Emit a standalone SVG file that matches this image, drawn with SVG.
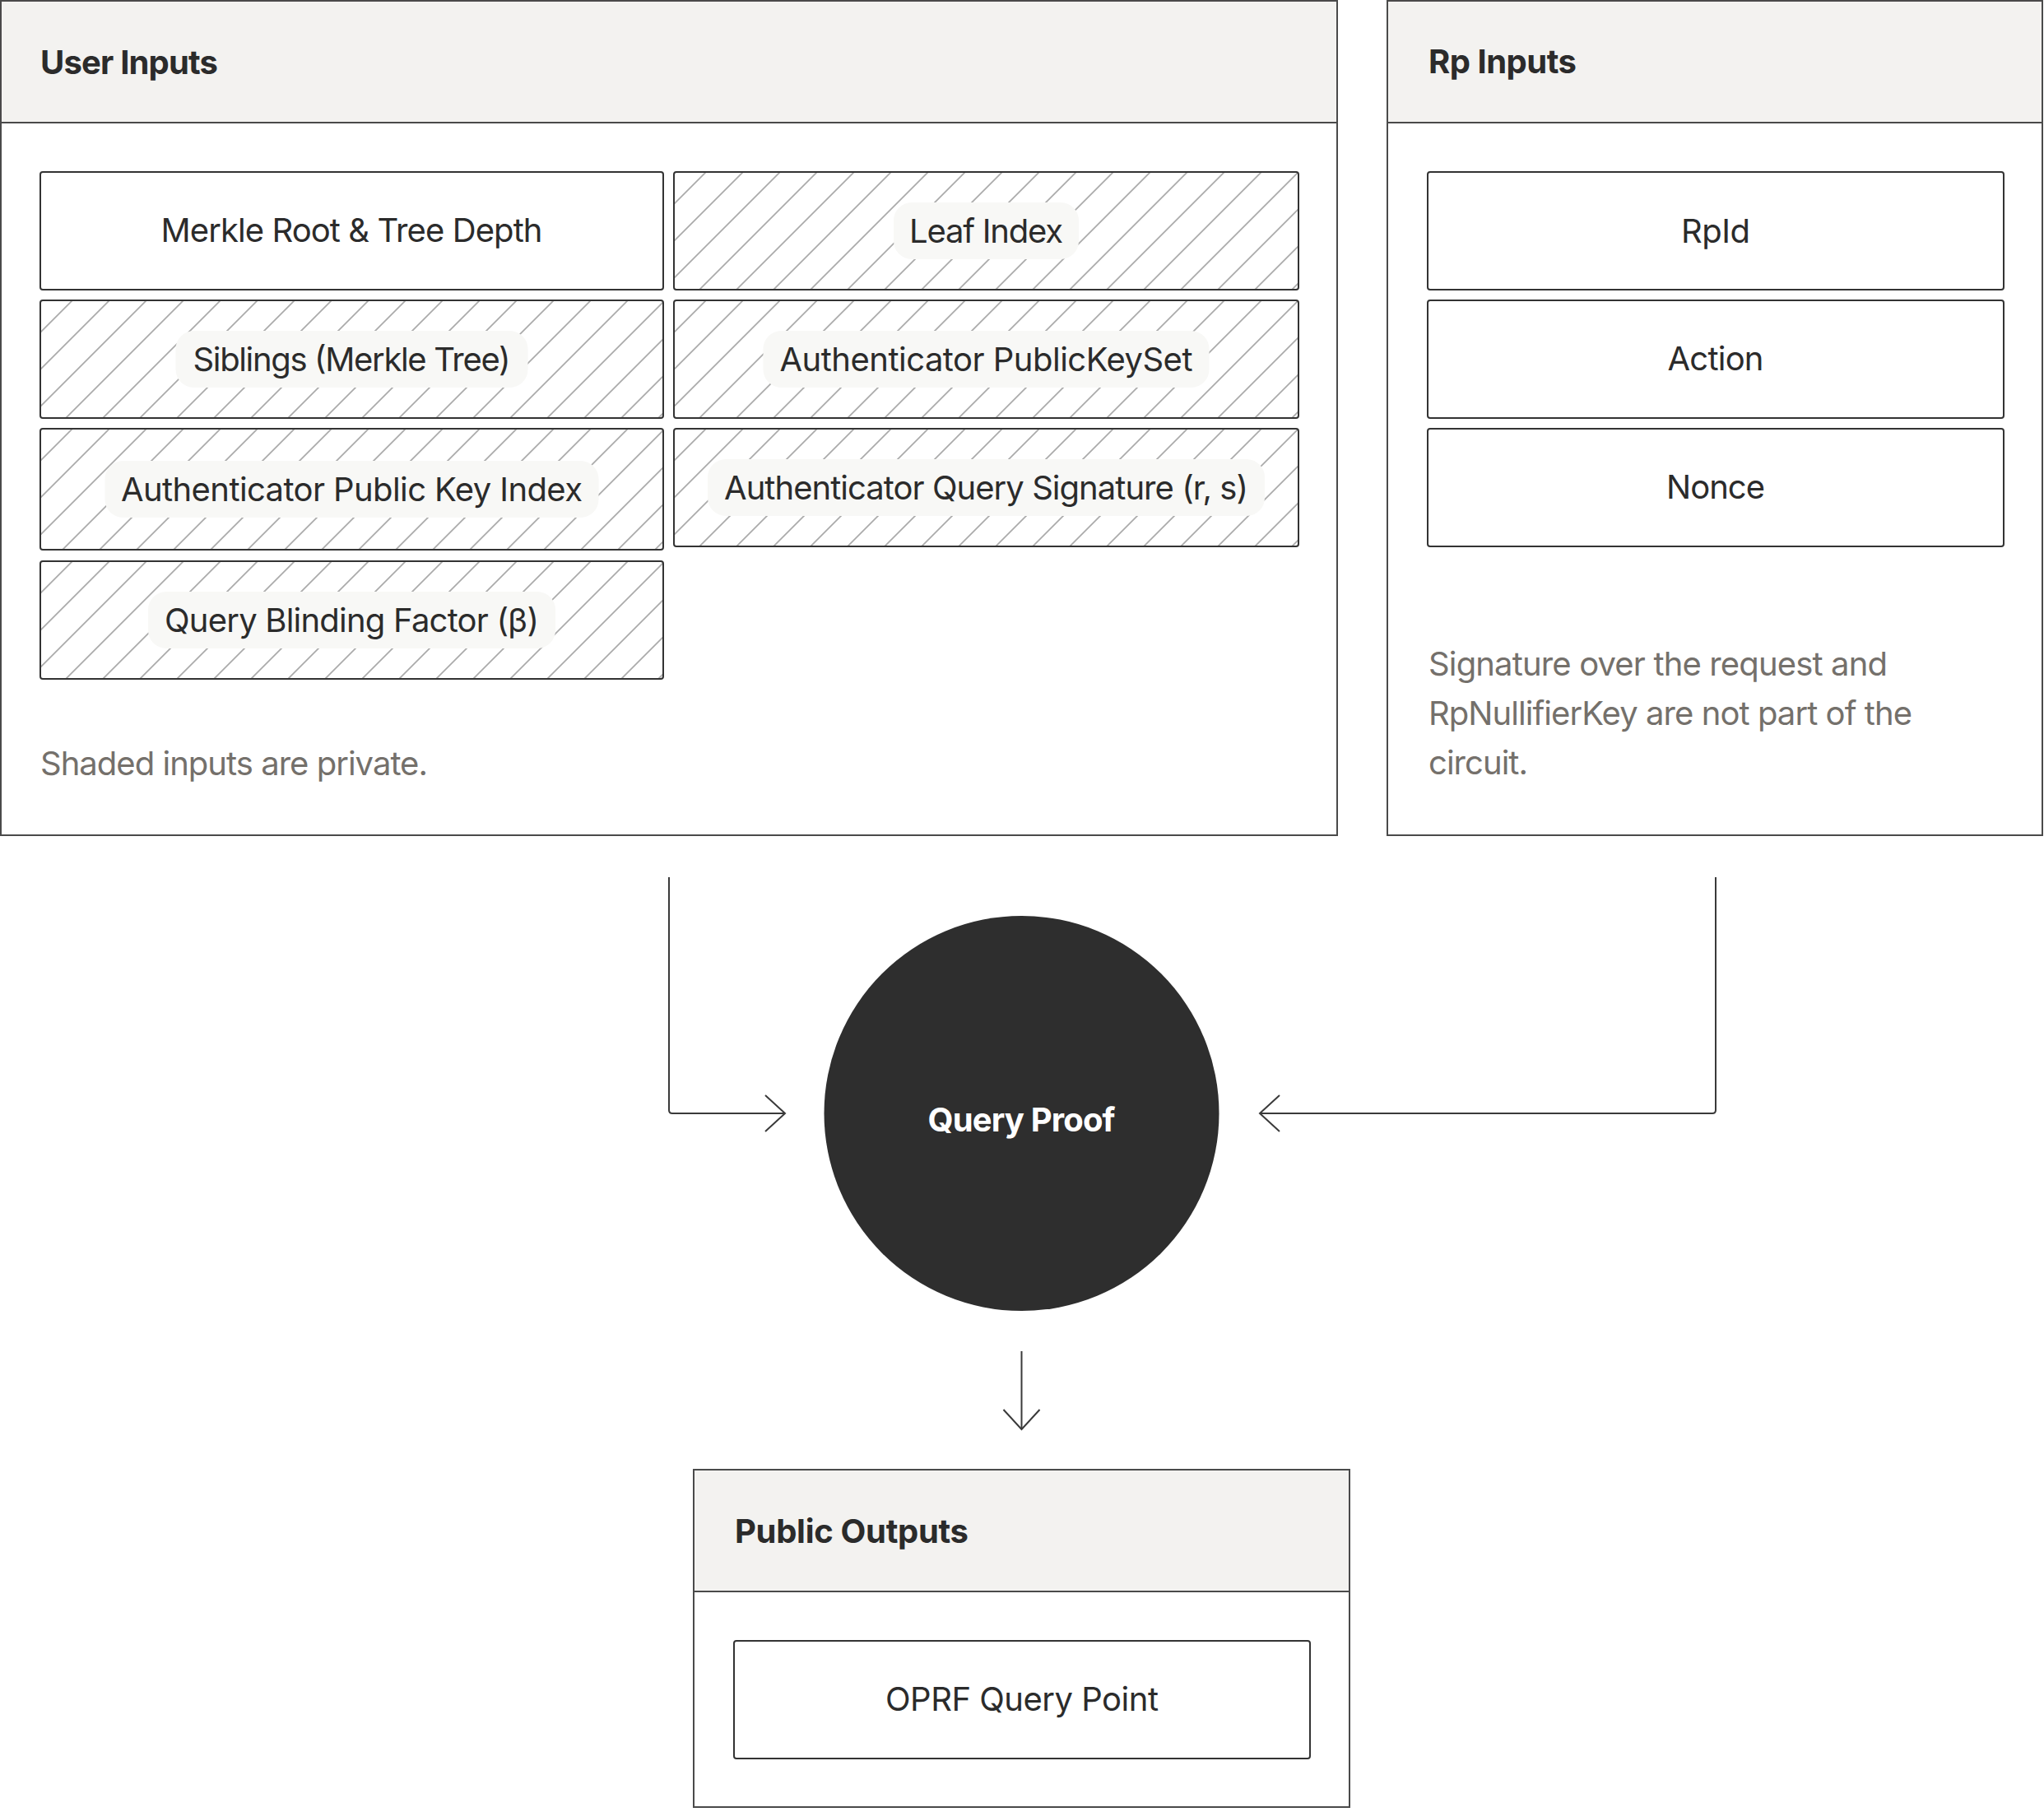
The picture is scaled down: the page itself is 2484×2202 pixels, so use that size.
<svg xmlns="http://www.w3.org/2000/svg" width="2484" height="2202" viewBox="0 0 2484 2202">
<style>
.outer{fill:#fff;stroke:#4a4a4a;stroke-width:2}
.hdr{fill:#f3f2f0;stroke:#4a4a4a;stroke-width:2}
.box{fill:#fff;stroke:#333;stroke-width:2}
.hbox{fill:url(#hatch);stroke:#333;stroke-width:2}
.pill{fill:#f8f8f6}
.t{font-family:Inter,"Liberation Sans",sans-serif;font-size:40px;fill:#2b2b2b}
.c{text-anchor:middle}
.b{font-weight:700}
.note{fill:#74706b}
.w{fill:#fff}
.conn{fill:none;stroke:#3a3a3a;stroke-width:2}
</style>
<defs>
<pattern id="hatch" patternUnits="userSpaceOnUse" width="45" height="45" patternTransform="translate(-6,0)">
<path d="M46,-1 L-1,46 M-5,5 L5,-5 M40,50 L50,40" stroke="#ababab" stroke-width="1.8" fill="none"/>
</pattern>
<marker id="chev" viewBox="-28 -26 32 52" refX="0" refY="0" markerWidth="32" markerHeight="52" markerUnits="userSpaceOnUse" orient="auto">
<path d="M-24,-22 L0,0 L-24,22" fill="none" stroke="#3a3a3a" stroke-width="2"/>
</marker>
</defs>

<g id="user-inputs">
<rect class="outer" x="1" y="1" width="1624" height="1014"/>
<rect class="hdr" x="1" y="1" width="1624" height="148"/>
<text class="t b" x="49" y="90" textLength="216">User Inputs</text>
<text class="t note" x="49" y="942" textLength="471">Shaded inputs are private.</text>
</g>

<g id="merkle-root">
<rect class="box" x="49" y="209" width="757" height="143" rx="3"/>
<text class="t c" x="427.5" y="294" textLength="464">Merkle Root &amp; Tree Depth</text>
</g>

<g id="leaf-index" transform="translate(819,209)">
<rect class="hbox" x="0" y="0" width="759" height="143" rx="3"/>
<rect class="pill" x="267" y="37" width="225" height="69" rx="22"/>
<text class="t c" x="379.5" y="85.5" textLength="187">Leaf Index</text>
</g>

<g id="siblings" transform="translate(49,365)">
<rect class="hbox" x="0" y="0" width="757" height="143" rx="3"/>
<rect class="pill" x="164.5" y="37" width="428" height="69" rx="22"/>
<text class="t c" x="378.5" y="85.5" textLength="386">Siblings (Merkle Tree)</text>
</g>

<g id="pubkeyset" transform="translate(819,365)">
<rect class="hbox" x="0" y="0" width="759" height="143" rx="3"/>
<rect class="pill" x="108.5" y="37" width="542" height="69" rx="22"/>
<text class="t c" x="379.5" y="85.5" textLength="502">Authenticator PublicKeySet</text>
</g>

<g id="pubkey-index" transform="translate(49,521)">
<rect class="hbox" x="0" y="0" width="757" height="147" rx="3"/>
<rect class="pill" x="78.5" y="39" width="600" height="69" rx="22"/>
<text class="t c" x="378.5" y="87.5" textLength="561">Authenticator Public Key Index</text>
</g>

<g id="query-signature" transform="translate(819,521)">
<rect class="hbox" x="0" y="0" width="759" height="143" rx="3"/>
<rect class="pill" x="41" y="37" width="677" height="69" rx="22"/>
<text class="t c" x="379.5" y="85.5" textLength="637">Authenticator Query Signature (r, s)</text>
</g>

<g id="blinding-factor" transform="translate(49,682)">
<rect class="hbox" x="0" y="0" width="757" height="143" rx="3"/>
<rect class="pill" x="131" y="37" width="495" height="69" rx="22"/>
<text class="t c" x="378.5" y="85.5" textLength="455">Query Blinding Factor (β)</text>
</g>

<g id="rp-inputs">
<rect class="outer" x="1686" y="1" width="796" height="1014"/>
<rect class="hdr" x="1686" y="1" width="796" height="148"/>
<text class="t b" x="1736" y="89" textLength="180">Rp Inputs</text>
<text class="t note" x="1736" y="821" textLength="558">Signature over the request and</text>
<text class="t note" x="1736" y="881" textLength="588">RpNullifierKey are not part of the</text>
<text class="t note" x="1736" y="941" textLength="121">circuit.</text>
</g>

<g id="rpid">
<rect class="box" x="1735" y="209" width="700" height="143" rx="3"/>
<text class="t c" x="2085" y="294.5" textLength="84">RpId</text>
</g>

<g id="action">
<rect class="box" x="1735" y="365" width="700" height="143" rx="3"/>
<text class="t c" x="2085" y="450" textLength="117">Action</text>
</g>

<g id="nonce">
<rect class="box" x="1735" y="521" width="700" height="143" rx="3"/>
<text class="t c" x="2085" y="606" textLength="120">Nonce</text>
</g>

<g id="query-proof">
<circle cx="1241.5" cy="1353" r="240" fill="#2e2e2e"/>
<text class="t b c w" x="1241.5" y="1375" textLength="228">Query Proof</text>
</g>

<g id="public-outputs">
<rect class="outer" x="843" y="1786" width="797" height="410"/>
<rect class="hdr" x="843" y="1786" width="797" height="148"/>
<text class="t b" x="893" y="1875" textLength="284">Public Outputs</text>
</g>

<g id="oprf-query-point">
<rect class="box" x="892" y="1994" width="700" height="143" rx="3"/>
<text class="t c" x="1242" y="2079" textLength="332">OPRF Query Point</text>
</g>

<g id="connectors">
<path class="conn" d="M813,1066 V1349 Q813,1353 817,1353 H954" marker-end="url(#chev)"/>
<path class="conn" d="M2085,1066 V1349 Q2085,1353 2081,1353 H1531" marker-end="url(#chev)"/>
<path class="conn" d="M1241.5,1642 V1737" marker-end="url(#chev)"/>
</g>
</svg>
